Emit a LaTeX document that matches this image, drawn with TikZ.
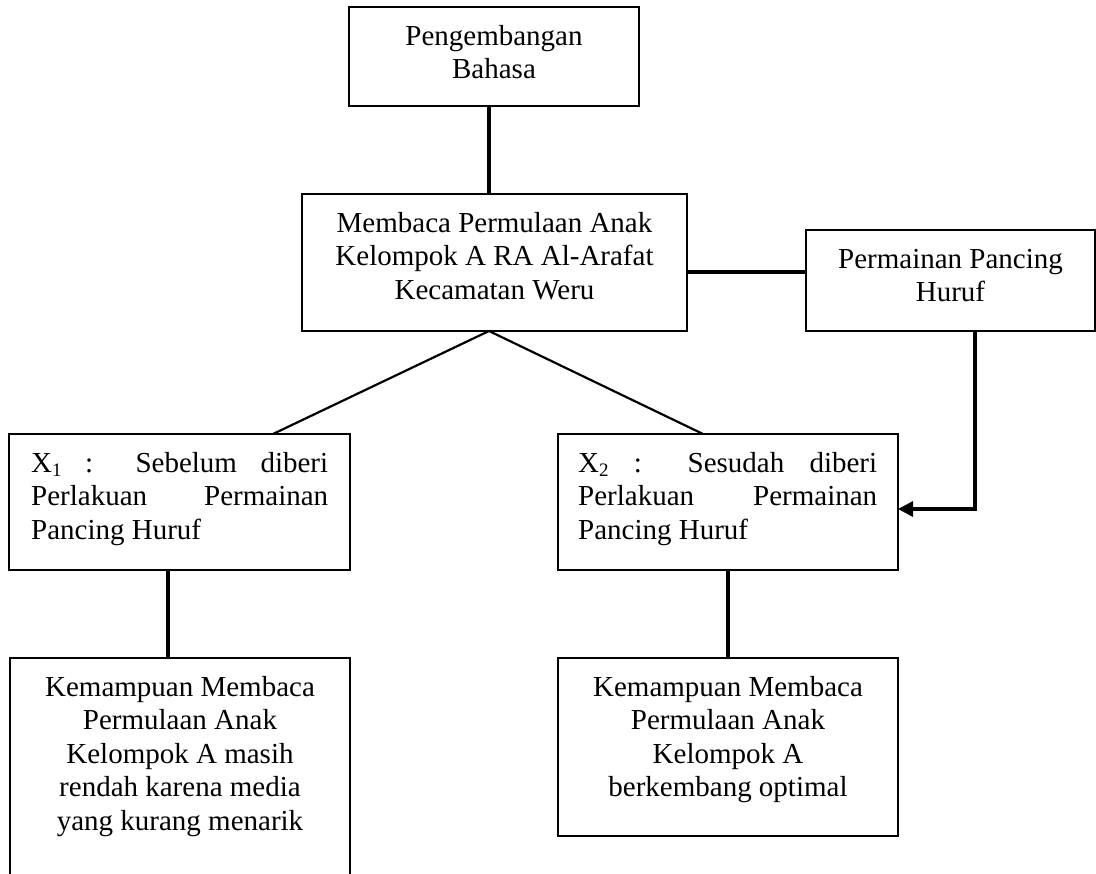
\documentclass[tikz,border=0pt]{standalone}
\usepackage{fontspec}
\setmainfont{Liberation Serif}
\usetikzlibrary{arrows.meta}
\newcommand{\fstrut}{\rule{0pt}{24pt}}
\newcommand{\lowsub}[1]{\raisebox{-4pt}{\fontsize{19}{19}\selectfont #1}}
\begin{document}
\begin{tikzpicture}[x=1pt,y=-1pt,
  box/.style={draw, line width=1.7pt, inner sep=0pt, outer sep=0pt, anchor=north west},
  txt/.style={inner sep=0pt, anchor=north, align=center, font=\fontsize{29}{33.5}\selectfont},
  jtxt/.style={inner sep=0pt, anchor=north west, align=left, font=\fontsize{29}{33.5}\selectfont},
  conn/.style={line width=3.3pt},
  diag/.style={line width=2.2pt},
]
\useasboundingbox (0,0) rectangle (1096,874);
\clip (0,0) rectangle (1096,874);

% boxes
\node[box, minimum width=290pt, minimum height=99pt]  (b1) at (349,7) {};
\node[box, minimum width=385pt, minimum height=137pt] (b2) at (302,194) {};
\node[box, minimum width=289pt, minimum height=101pt] (b3) at (806,230) {};
\node[box, minimum width=341pt, minimum height=136pt] (x1) at (9,434) {};
\node[box, minimum width=340pt, minimum height=136pt] (x2) at (558,434) {};
\node[box, minimum width=340pt, minimum height=240pt] (bl) at (10,658) {};
\node[box, minimum width=340pt, minimum height=178pt] (br) at (558,658) {};

% texts
\node[txt] (t1) at ([yshift=-14pt]b1.north) {\fstrut Pengembangan\\Bahasa};
\node[txt] (t2) at ([yshift=-14pt]b2.north) {\fstrut Membaca Permulaan Anak\\Kelompok A RA Al-Arafat\\Kecamatan Weru};
\node[txt] (t3) at ([yshift=-14pt]b3.north) {\fstrut Permainan Pancing\\Huruf};
\node[jtxt] (t4) at ([xshift=22pt,yshift=-14pt]x1.north west)
  {\fstrut\makebox[297pt][s]{X\lowsub{1} : Sebelum diberi}\\\makebox[297pt][s]{Perlakuan Permainan}\\Pancing Huruf};
\node[jtxt] (t5) at ([xshift=20pt,yshift=-14pt]x2.north west)
  {\fstrut\makebox[299pt][s]{X\lowsub{2} : Sesudah diberi}\\\makebox[299pt][s]{Perlakuan Permainan}\\Pancing Huruf};
\node[txt] (t6) at ([yshift=-14pt]bl.north) {\fstrut Kemampuan Membaca\\Permulaan Anak\\Kelompok A masih\\rendah karena media\\yang kurang menarik};
\node[txt] (t7) at ([yshift=-14pt]br.north) {\fstrut Kemampuan Membaca\\Permulaan Anak\\Kelompok A\\berkembang optimal};

% helper coordinates
\coordinate (ax) at (489,0);
\coordinate (lx) at (273,0);
\coordinate (rx) at (703,0);
\coordinate (hy) at (0,272);
\coordinate (cx) at (168,0);
\coordinate (ar) at (975,0);
\coordinate (ay) at (0,509);

% connectors
\draw[conn] (b1.south -| ax) -- (b2.north -| ax);
\draw[diag] (b2.south -| ax) -- (x1.north -| lx);
\draw[diag] (b2.south -| ax) -- (x2.north -| rx);
\draw[conn] (b2.east |- hy) -- (b3.west |- hy);
\draw[conn] (x1.south -| cx) -- (bl.north -| cx);
\draw[conn] (x2.south) -- (br.north);
\draw[conn, -{Triangle[length=15pt,width=15pt]}] (b3.south -| ar) |- (x2.east |- ay);
\end{tikzpicture}
\end{document}
